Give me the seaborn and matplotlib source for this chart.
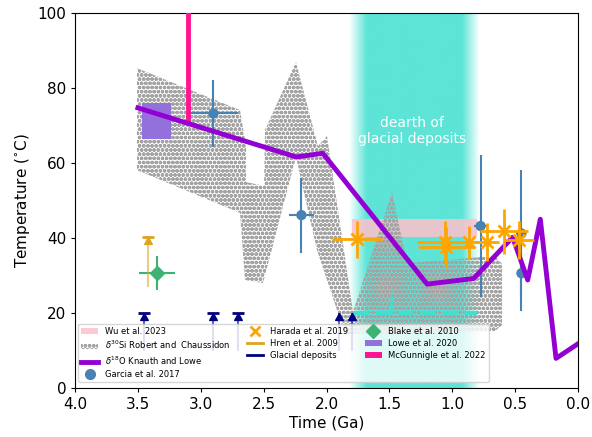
import numpy as np
import pandas as pd
import matplotlib
matplotlib.use("Agg")
import matplotlib.pyplot as plt
import seaborn as sns
from matplotlib.patches import Patch, Rectangle, Polygon
from matplotlib.lines import Line2D
from matplotlib.path import Path

# ---------------- data ----------------
# delta18O Knauth and Lowe
o18_time = [3.50, 2.24, 2.03, 1.20, 0.83, 0.52, 0.40, 0.30, 0.175, 0.0]
o18_temp = [74.7, 61.6, 62.6, 27.7, 29.2, 40.2, 28.8, 45.0, 7.9, 11.8]

# delta30Si Robert and Chaussidon (outline of envelope)
si_time = [3.507, 2.688, 2.640, 2.640, 2.497, 2.489, 2.243, 2.068, 1.996, 1.789,
           1.479, 1.360, 0.660, 0.604, 0.604, 0.660, 1.813, 1.853, 2.076, 2.243,
           2.505, 2.648, 2.688, 3.507]
si_temp = [85.3, 74.1, 64.5, 54.9, 53.9, 68.8, 86.9, 64.5, 67.2, 20.3,
           52.3, 33.3, 35.2, 33.1, 16.8, 15.2, 14.4, 14.4, 36.8, 61.6,
           28.0, 28.8, 46.7, 58.1]

# Garcia et al. 2017
garcia_time = [2.90, 2.20, 0.775, 0.45, 0.45]
garcia_temp = [73.2, 46.1, 43.2, 41.2, 30.6]
garcia_xerr = [0.20, 0.10, 0.05, 0.04, 0.0]
garcia_yerr = [9.0, 10.0, 19.0, 17.0, 10.0]

# Harada et al. 2019
harada_time = [1.755, 1.06, 1.05, 0.867, 0.726, 0.587, 0.47]
harada_temp = [39.6, 38.9, 37.5, 38.8, 38.9, 41.8, 39.4]
harada_xerr = [0.20, 0.22, 0.22, 0.10, 0.10, 0.19, 0.12]
harada_yerr = [5.0, 5.5, 5.5, 4.5, 5.0, 6.0, 5.0]

# Blake et al. 2010
blake_time = [3.35]
blake_temp = [30.7]
blake_xerr = [0.145]
blake_yerr = [4.5]

# Hren et al. 2009 (lower limit)
hren_time = [3.42]
hren_temp = [40.3]
hren_low = [27.0]

# Glacial deposits
glacial_time = [3.45, 2.90, 2.70, 1.90, 1.80]
glacial_temp = [20.0, 20.0, 20.0, 20.0, 20.0]
glacial_low = [10.0, 10.0, 10.0, 10.0, 10.0]
glacial_cap = [True, True, True, False, False]

# Wu et al. 2023 box
wu_time = [1.80, 0.80]
wu_temp = [40.2, 45.0]

# Lowe et al. 2020 box
lowe_time = [3.47, 3.24]
lowe_temp = [66.3, 76.1]

# McGunnigle et al. 2022
mcg_time = [3.10, 3.10]
mcg_temp = [71.0, 101.0]

# dearth of glacial deposits band
dearth_time = [1.82, 1.68, 0.92, 0.78]
dearth_line_time = [1.78, 0.80]
dearth_line_temp = [20.0, 20.0]
spike_time = [1.50, 1.48, 1.46]
spike_temp = [20.0, 28.0, 20.0]

# ---------------- figure ----------------
plt.rcParams["hatch.linewidth"] = 1.3
fig = plt.figure(figsize=(5.92, 4.37), dpi=100)
ax = fig.add_axes([0.1267, 0.1121, 0.8497, 0.8582])

turq = "#40E0D0"
# gradient band
gx = np.linspace(dearth_time[0], dearth_time[3], 300)
alpha_prof = np.interp(-gx, [-d for d in dearth_time], [0, 1, 1, 0]) * 0.85
rgba = np.zeros((2, len(gx), 4))
rgba[..., :3] = matplotlib.colors.to_rgb(turq)
rgba[..., 3] = alpha_prof
ax.imshow(rgba, extent=(dearth_time[0], dearth_time[3], 0, 100), aspect="auto",
          zorder=0, interpolation="bilinear")

# Wu box
ax.add_patch(Rectangle((wu_time[1], wu_temp[0]), wu_time[0] - wu_time[1],
                       wu_temp[1] - wu_temp[0], facecolor="pink", alpha=0.85,
                       edgecolor="none", zorder=1))

# Si envelope
si_color = "#a4a4a4"
ax.add_patch(Polygon(np.column_stack([si_time, si_temp]), closed=True,
                     facecolor="none", edgecolor=si_color, hatch="oooo",
                     linewidth=0, zorder=2))

# teal dashed line + spike
ax.plot(dearth_line_time, dearth_line_temp, color=turq, lw=3, ls="--", zorder=2.5)
ax.fill(spike_time, spike_temp, color=turq, alpha=0.8, lw=0, zorder=2.4)

# Lowe box
ax.add_patch(Rectangle((lowe_time[1], lowe_temp[0]), lowe_time[0] - lowe_time[1],
                       lowe_temp[1] - lowe_temp[0], facecolor="mediumpurple",
                       edgecolor="none", zorder=3))

# McGunnigle
ax.plot(mcg_time, mcg_temp, color="deeppink", lw=3.5, zorder=3.9, solid_capstyle="butt")

# Garcia
ax.errorbar(garcia_time, garcia_temp, xerr=garcia_xerr, yerr=garcia_yerr, fmt="none",
            ecolor="steelblue", elinewidth=1.5, zorder=3.5)
sns.scatterplot(x=garcia_time, y=garcia_temp, color="steelblue", s=55, marker="o",
                edgecolor="none", zorder=3.6, ax=ax)

# purple line
sns.lineplot(x=o18_time, y=o18_temp, sort=False, estimator=None, color="darkviolet",
             lw=3.5, zorder=4, ax=ax)

# Harada
ax.errorbar(harada_time, harada_temp, xerr=harada_xerr, yerr=harada_yerr, fmt="x",
            color="orange", ms=8, mew=2, elinewidth=2, zorder=5)

# Blake
ax.errorbar(blake_time, blake_temp, xerr=blake_xerr, yerr=blake_yerr, fmt="D",
            color="mediumseagreen", ms=7, elinewidth=1.5, zorder=5)

# caret marker with tip at the data point
tip = Path([(0, 0), (-0.55, -1), (0.55, -1), (0, 0)],
           [Path.MOVETO, Path.LINETO, Path.LINETO, Path.CLOSEPOLY])

# Hren
ax.vlines(hren_time, hren_low, hren_temp, color="goldenrod", lw=1.5, alpha=0.55, zorder=5)
ax.plot(hren_time, hren_temp, ls="none", marker=tip, ms=10, color="goldenrod", zorder=5)
ax.plot(hren_time, hren_temp, ls="none", marker="_", ms=9, mew=2, color="goldenrod", zorder=5)

# Glacial deposits
ax.vlines(glacial_time, glacial_low, glacial_temp, color="navy", lw=1.5, alpha=0.6, zorder=5)
ax.plot(glacial_time, glacial_temp, ls="none", marker=tip, ms=10, color="navy", zorder=5)
cap_t = [t for t, c in zip(glacial_time, glacial_cap) if c]
cap_y = [y for y, c in zip(glacial_temp, glacial_cap) if c]
ax.plot(cap_t, cap_y, ls="none", marker="_", ms=9, mew=2, color="navy", zorder=5)

ax.text(1.32, 68.5, "dearth of\nglacial deposits", color="white", fontsize=10,
        ha="center", va="center", zorder=6)

ax.set_xlim(4.0, 0.0)
ax.set_ylim(0, 100)
ax.set_xticks(np.arange(4.0, -0.01, -0.5))
ax.set_yticks([0, 20, 40, 60, 80, 100])
ax.tick_params(labelsize=11, length=3.2, pad=3.0)
ax.set_xlabel("Time (Ga)", fontsize=11, labelpad=3)
ax.set_ylabel("Temperature ($^{\\circ}$C)", fontsize=11, labelpad=4)

handles = [
    Patch(facecolor="pink", alpha=0.85, edgecolor="none"),
    Patch(facecolor="none", edgecolor=si_color, hatch="oooo", lw=0),
    Line2D([], [], color="darkviolet", lw=3.5),
    Line2D([], [], ls="none", marker="o", color="steelblue", ms=7),
    Line2D([], [], ls="none", marker="x", color="orange", ms=7, mew=2),
    Line2D([], [], color="goldenrod", lw=2),
    Line2D([], [], color="navy", lw=2),
    Line2D([], [], ls="none", marker="D", color="mediumseagreen", ms=7),
    Patch(facecolor="mediumpurple", edgecolor="none"),
    Patch(facecolor="deeppink", edgecolor="none"),
]
labels = ["Wu et al. 2023", "$\\delta^{30}$Si Robert and  Chaussidon",
          "$\\delta^{18}$O Knauth and Lowe", "Garcia et al. 2017",
          "Harada et al. 2019", "Hren et al. 2009", "Glacial deposits",
          "Blake et al. 2010", "Lowe et al. 2020", "McGunnigle et al. 2022"]
ax.legend(handles, labels, ncol=3, loc="lower left", fontsize=6,
          bbox_to_anchor=(0.006, 0.016), borderaxespad=0, labelspacing=0.35,
          borderpad=0.4)

fig.savefig("out.png", dpi=100)
